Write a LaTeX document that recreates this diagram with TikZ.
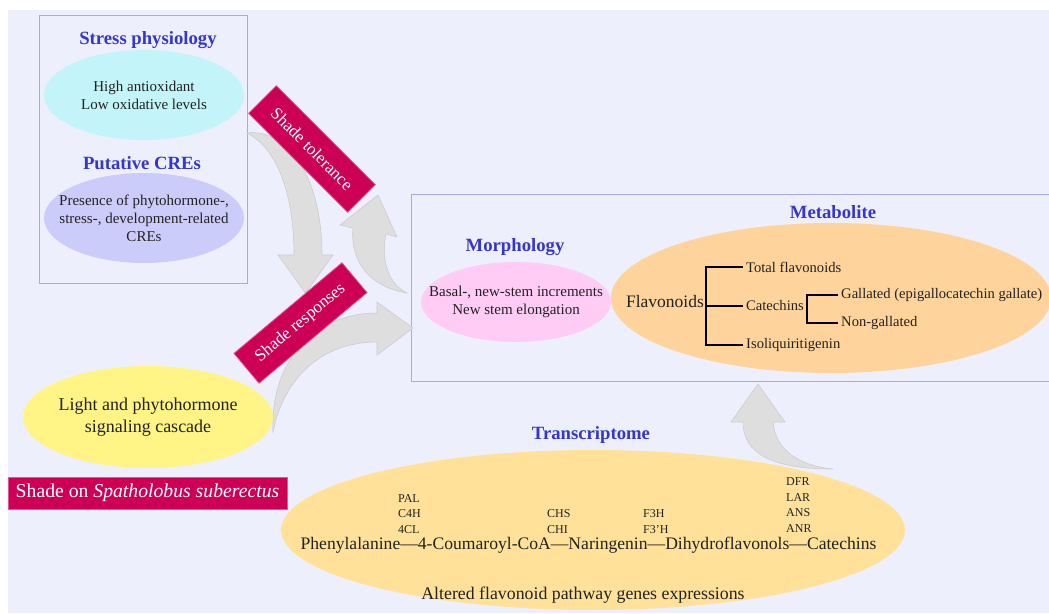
\documentclass[tikz,border=0pt]{standalone}
\usepackage{fontspec}
\setmainfont{Liberation Serif}
\usetikzlibrary{shapes.geometric}
\definecolor{bgc}{HTML}{EDF0FC}
\definecolor{boxline}{HTML}{A8A8F0}
\definecolor{ttl}{HTML}{3535CF}
\definecolor{cyanE}{HTML}{C2F4FA}
\definecolor{lavE}{HTML}{CCCCFA}
\definecolor{crim}{HTML}{CC0055}
\definecolor{pinkE}{HTML}{FFCCF6}
\definecolor{orE}{HTML}{FFD39C}
\definecolor{trE}{HTML}{FFE19A}
\definecolor{yelE}{HTML}{FFF485}
\definecolor{arrF}{HTML}{DEDEDE}
\definecolor{arrD}{HTML}{CDCDCD}
\definecolor{txt}{HTML}{222222}
\begin{document}
\begin{tikzpicture}[x=1pt,y=-1pt,
 title/.style={font=\fontsize{18.7}{22}\selectfont\bfseries, text=ttl, inner sep=0pt},
 oval/.style={ellipse, inner sep=0pt},
 body/.style={font=\fontsize{15}{18}\selectfont, align=center, text=txt, inner sep=0pt},
 tag/.style={fill=crim, text=white, draw=crim!65!white, line width=0.8pt, inner sep=0pt, font=\fontsize{17}{20}\selectfont},
 blockarrow/.style={fill=arrF, draw=arrD, line width=0.6pt},
 panel/.style={draw=boxline, line width=1pt},
 tree/.style={draw=black, line width=1.8pt},
 leaf/.style={anchor=west, inner sep=3pt, text=txt, font=\fontsize{14.6}{17}\selectfont},
 gene/.style={anchor=west, align=left, inner sep=0pt, text=txt, font=\fontsize{12}{15.5}\selectfont}
]
\useasboundingbox (0,0) rectangle (1049,613);
\fill[white] (0,0) rectangle (1049,613);
\fill[bgc] (8,10) rectangle (1049,613);

% panels
\draw[panel] (39,15) rectangle (247,283);
\draw[panel] (1049,194) -- (411,194) -- (411,381) -- (1049,381);

% block arrows
\draw[blockarrow] (247,133) .. controls (290,128) and (322,180) .. (322,255) -- (333,255) -- (305.5,293) -- (278,255) -- (294,255) .. controls (294,200) and (280,150) .. (247,133) -- cycle;
\draw[blockarrow] (407,293) .. controls (370,287) and (350,262) .. (353,228) -- (340,225) -- (378,195) -- (397,237) -- (386,234) .. controls (380,262) and (390,285) .. (407,293) -- cycle;
\draw[blockarrow] (273,432) .. controls (270,360) and (315,313) .. (377,313) -- (377,302) -- (413,328) -- (377,355) -- (377,342) .. controls (320,342) and (283,380) .. (273,432) -- cycle;
\draw[blockarrow] (833,469) .. controls (775,469) and (743,455) .. (743,422) -- (731,422) -- (758,384) -- (785,422) -- (773,422) .. controls (775,450) and (800,466) .. (833,469) -- cycle;

% left panel
\node[title] (tsp) at (148,40) {Stress physiology};
\node[oval, fill=cyanE, minimum width=200pt, minimum height=90pt] (sp) at (144,95) {};
\node[body] (sptxt) at (sp) {High antioxidant\\Low oxidative levels};
\node[title] (tcre) at (142,163) {Putative CREs};
\node[oval, fill=lavE, minimum width=200pt, minimum height=90pt] (cre) at (144,218) {};
\node[body] (cretxt) at (cre) {Presence of phytohormone-,\\stress-, development-related\\CREs};

% yellow
\node[oval, fill=yelE, minimum width=250pt, minimum height=102pt] (light) at (148,417) {};
\node[body, font=\fontsize{18}{22}\selectfont] (lighttxt) at (light) {Light and phytohormone\\signaling cascade};

% shade tags
\node[tag, minimum width=140pt, minimum height=39pt, rotate=-45] (stol) at (312,149) {Shade tolerance};
\node[tag, minimum width=141pt, minimum height=39pt, rotate=40] (sres) at (300.5,323) {Shade responses};
\node[tag, minimum width=279pt, minimum height=32pt, font=\fontsize{19.7}{22}\selectfont] (shade) at (147.5,493) {Shade on \textit{Spatholobus suberectus}};

% morphology
\node[title] (tmor) at (515,247) {Morphology};
\node[oval, fill=pinkE, minimum width=190pt, minimum height=80pt] (mor) at (516,302) {};
\node[body] (mortxt) at (mor) {Basal-, new-stem increments\\New stem elongation};

% metabolite
\node[title] (tmet) at (833,212) {Metabolite};
\node[oval, fill=orE, minimum width=440pt, minimum height=150pt] (met) at (831,298) {};
\node[inner sep=0pt, text=txt, font=\fontsize{17.5}{20}\selectfont] (fl) at (665,302) {Flavonoids};
\node[leaf] (tot) at (743,267) {Total flavonoids};
\node[leaf] (cat) at (743,306) {Catechins};
\node[leaf] (iso) at (743,345) {Isoliquiritigenin};
\node[leaf] (gal) at (838,295) {Gallated (epigallocatechin gallate)};
\node[leaf] (non) at (838,323) {Non-gallated};
\coordinate (bx) at (706,0);
\coordinate (cx) at (807,0);
\draw[tree] (tot.west) -- (tot.west -| bx) -- (iso.west -| bx) -- (iso.west);
\draw[tree] (cat.west -| bx) -- (cat.west);
\draw[tree] (gal.west) -- (gal.west -| cx) -- (non.west -| cx) -- (non.west);

% transcriptome
\node[title] (ttr) at (591,435) {Transcriptome};
\node[oval, fill=trE, minimum width=624pt, minimum height=160pt] (tr) at (593,530) {};
\node[gene] (g1) at (398,514) {PAL\\C4H\\4CL};
\node[gene] (g2) at (547,521.5) {CHS\\CHI};
\node[gene] (g3) at (643,521.5) {F3H\\F3'H};
\node[gene] (g4) at (786,505) {DFR\\LAR\\ANS\\ANR};
\node[inner sep=0pt, text=txt, font=\fontsize{17.6}{20}\selectfont] (path) at (588.5,545) {Phenylalanine—4-Coumaroyl-CoA—Naringenin—Dihydroflavonols—Catechins};
\node[inner sep=0pt, text=txt, font=\fontsize{17.8}{20}\selectfont] (alt) at (583,595) {Altered flavonoid pathway genes expressions};
\end{tikzpicture}
\end{document}
